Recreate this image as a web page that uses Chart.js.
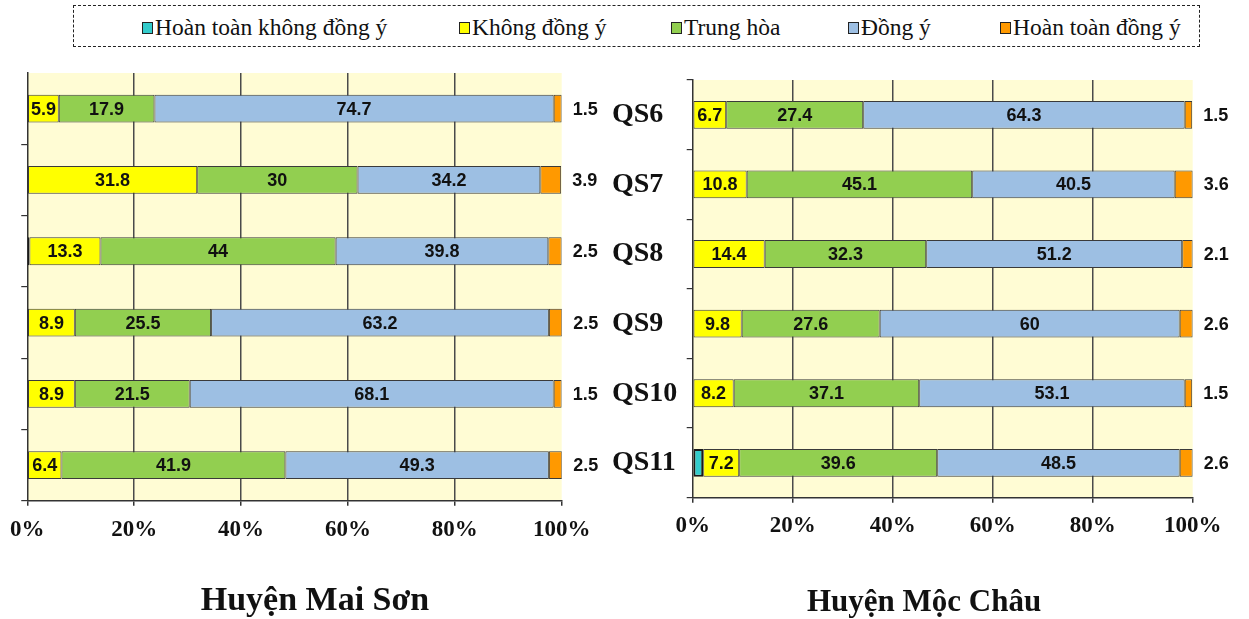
<!DOCTYPE html>
<html><head><meta charset="utf-8">
<script src="https://cdn.jsdelivr.net/npm/chart.js@4.4.1/dist/chart.umd.min.js"></script>
<style>
html,body{margin:0;padding:0;background:#fff;width:1249px;height:619px;overflow:hidden;}
body{position:relative;}
#legend{position:absolute;left:73px;top:5px;width:1127px;height:42px;border:1.5px dashed #222;box-sizing:border-box;}
.item{position:absolute;top:7px;font-family:"Liberation Serif","Times New Roman",serif;font-size:23.5px;line-height:28px;color:#111;white-space:nowrap;}
.sw{display:inline-block;width:9px;height:10px;border:1px solid #222;margin-right:2px;vertical-align:1px;}
#w1{position:absolute;left:0;top:50px;width:630px;height:572px;}
#w2{position:absolute;left:605px;top:50px;width:644px;height:572px;}
</style></head>
<body>
<div id="legend"></div>
<div id="w1"><canvas id="c1" width="630" height="572"></canvas></div>
<div id="w2"><canvas id="c2" width="644" height="572"></canvas></div>
<script>
// ---- data ----
const categories = ['QS6','QS7','QS8','QS9','QS10','QS11'];
const seriesNames = ['Hoàn toàn không đồng ý','Không đồng ý','Trung hòa','Đồng ý','Hoàn toàn đồng ý'];
const seriesColors = ['#33CCCC','#FFFF00','#92CF50','#9DBFE3','#FF9900'];
const chartTitles = ['Huyện Mai Sơn','Huyện Mộc Châu'];
const xTicks = [0,20,40,60,80,100];

const maiSonHoanToanKhongDongY = [0,0,0.4,0,0,0];
const maiSonKhongDongY = [5.9,31.8,13.3,8.9,8.9,6.4];
const maiSonTrungHoa = [17.9,30,44,25.5,21.5,41.9];
const maiSonDongY = [74.7,34.2,39.8,63.2,68.1,49.3];
const maiSonHoanToanDongY = [1.5,3.9,2.5,2.5,1.5,2.5];

const mocChauHoanToanKhongDongY = [0,0,0,0,0,2.1];
const mocChauKhongDongY = [6.7,10.8,14.4,9.8,8.2,7.2];
const mocChauTrungHoa = [27.4,45.1,32.3,27.6,37.1,39.6];
const mocChauDongY = [64.3,40.5,51.2,60,53.1,48.5];
const mocChauHoanToanDongY = [1.5,3.6,2.1,2.6,1.5,2.6];

// ---- legend (HTML text) ----
const legendX = [141,458,670,847,999];
const lg = document.getElementById('legend');
seriesNames.forEach((n,i)=>{
  const d = document.createElement('div');
  d.className='item';
  d.style.left = (legendX[i]-73)+'px';
  d.innerHTML = '<span class="sw" style="background:'+seriesColors[i]+'"></span>'+n;
  lg.appendChild(d);
});

const serif = '"Liberation Serif","Times New Roman",serif';
const sans = '"Liberation Sans",Arial,sans-serif';

const bgPlugin = {
  id:'bg',
  beforeDraw(chart){
    const {ctx, chartArea:a} = chart;
    ctx.save(); ctx.fillStyle='#FFFCD4';
    ctx.fillRect(a.left,a.top,a.right-a.left,a.bottom-a.top);
    ctx.restore();
  }
};
const labelPlugin = {
  id:'vlabels',
  afterDatasetsDraw(chart){
    const ctx = chart.ctx;
    ctx.save();
    ctx.font = 'bold 18px '+sans;
    ctx.fillStyle = '#111';
    ctx.textBaseline = 'middle';
    chart.data.datasets.forEach((ds,di)=>{
      if (di===0) return;
      const meta = chart.getDatasetMeta(di);
      meta.data.forEach((el,i)=>{
        const v = ds.data[i];
        if (!v) return;
        const txt = String(v);
        if (di===4){
          ctx.textAlign='left';
          ctx.fillText(txt, el.x+11, el.y+1);
        } else {
          ctx.textAlign='center';
          ctx.fillText(txt, (el.x+el.base)/2, el.y+1);
        }
      });
    });
    ctx.restore();
  }
};

function makeChart(id, series, opt){
  const datasets = series.map((d,i)=>({
    label: seriesNames[i],
    data: d,
    backgroundColor: seriesColors[i],
    borderColor: i===0 ? '#1a1a1a' : '#3a3a3a',
    borderWidth: (c)=> c.raw ? (i===0?2:1) : 0,
    borderSkipped: false,
    barPercentage: opt.barPct,
    categoryPercentage: 1
  }));
  return new Chart(document.getElementById(id), {
    type:'bar',
    data:{labels:categories, datasets},
    plugins:[bgPlugin,labelPlugin],
    options:{
      indexAxis:'y',
      responsive:false,
      animation:false,
      devicePixelRatio:1,
      layout:{padding:opt.padding},
      plugins:{
        legend:{display:false},
        tooltip:{enabled:false},
        title:{display:true, position:'bottom', text:opt.title,
          font:{family:serif, size:opt.titleSize, weight:'bold'}, color:'#111',
          padding:{top:opt.titleTop,bottom:0}}
      },
      scales:{
        x:{
          stacked:true, min:0, max:100,
          afterBuildTicks(s){ s.ticks = xTicks.map(v=>({value:v})); },
          afterFit(s){ s.height = 40; },
          ticks:{ callback:(v)=>v+'%', font:{family:serif,size:23,weight:'bold'}, color:'#111', padding:10, maxRotation:0 },
          grid:{ color:(c)=> (c.tick && (c.tick.value===0||c.tick.value===100)) ? 'rgba(0,0,0,0)' : '#4a4a4a',
                 tickColor:'#333', lineWidth:1.5, tickLength:5 },
          border:{ color:'#333', width:1.5 }
        },
        y:{
          stacked:true,
          afterFit(s){ s.width = opt.yWidth; },
          ticks:{ display:opt.showY, crossAlign:'far', font:{family:serif,size:28,weight:'bold'}, color:'#111', padding:8 },
          grid:{ drawOnChartArea:false, color:(c)=> (opt.hideTopTick && c.index===0) ? 'rgba(0,0,0,0)' : '#333', tickLength:6, lineWidth:1.2 },
          border:{ color:'#333', width:1.5 }
        },
        gap:{
          type:'linear', axis:'y', position:'right', display:true,
          afterFit(s){ s.width = opt.rightGap; },
          ticks:{display:false}, grid:{display:false}, border:{display:false}
        }
      }
    }
  });
}

makeChart('c1',
  [maiSonHoanToanKhongDongY,maiSonKhongDongY,maiSonTrungHoa,maiSonDongY,maiSonHoanToanDongY],
  {title:chartTitles[0], titleSize:34, barPct:0.39, showY:false, yWidth:26.7, hideTopTick:true, rightGap:68.3,
   padding:{left:0,right:0,top:23,bottom:0}, titleTop:40.4});

makeChart('c2',
  [mocChauHoanToanKhongDongY,mocChauKhongDongY,mocChauTrungHoa,mocChauDongY,mocChauHoanToanDongY],
  {title:chartTitles[1], titleSize:31, barPct:0.40, showY:true, yWidth:80.7, hideTopTick:false, rightGap:43.3,
   padding:{left:7,right:13,top:30,bottom:0}, titleTop:47.1});
</script>
</body></html>
